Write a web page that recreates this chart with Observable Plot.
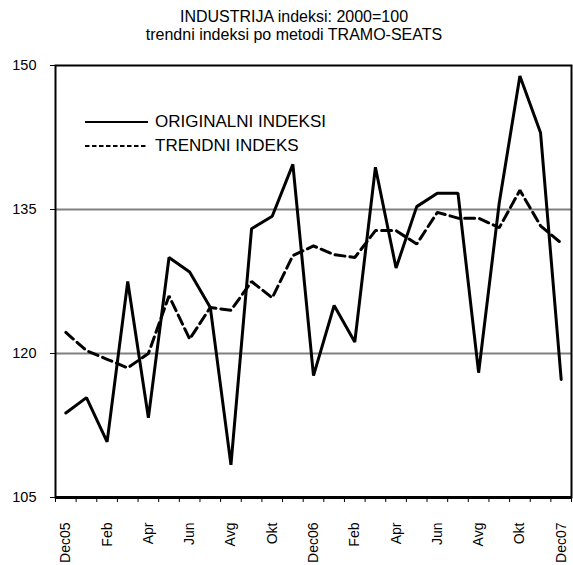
<!DOCTYPE html>
<html>
<head>
<meta charset="utf-8">
<script src="https://cdn.jsdelivr.net/npm/d3@7"></script>
<script src="https://cdn.jsdelivr.net/npm/@observablehq/plot@0.6"></script>
<style>
  html, body { margin: 0; padding: 0; background: #fff; }
  body { font-family: "Liberation Sans", Arial, sans-serif; }
  #wrap { position: relative; width: 573px; height: 565px; overflow: hidden; }
  #title { box-sizing: border-box; height: 48px; padding-top: 8px; padding-left: 15px;
           font-size: 16px; line-height: 17.5px; text-align: center; color: #000; }
  #legend { position: absolute; left: 85px; top: 110px; font-size: 17px; color: #000; }
  #legend .row { display: flex; align-items: center; height: 24px; }
  #legend svg { margin-right: 7px; }
</style>
</head>
<body>
<div id="wrap">
  <div id="title">INDUSTRIJA indeksi: 2000=100<br>trendni indeksi po metodi TRAMO-SEATS</div>
  <div id="chart"></div>
  <div id="legend"></div>
</div>
<script>
// Months Dec 2005 .. Dec 2007
const months = ["Dec05","Jan06","Feb06","Mar06","Apr06","May06","Jun06","Jul06","Avg06","Sep06","Okt06","Nov06",
                "Dec06","Jan07","Feb07","Mar07","Apr07","May07","Jun07","Jul07","Avg07","Sep07","Okt07","Nov07","Dec07"];
const tickLabels = ["Dec05","Feb","Apr","Jun","Avg","Okt","Dec06","Feb","Apr","Jun","Avg","Okt","Dec07"];
const original = [113.8,115.4,110.8,127.5,113.3,130.0,128.5,124.8,108.4,133.0,134.3,139.7,
                  117.7,125.0,121.2,139.4,128.9,135.3,136.7,136.7,118.0,135.7,148.9,143.0,117.3];
const trend    = [122.2,120.3,119.4,118.5,120.0,126.0,121.5,124.8,124.5,127.5,125.8,130.2,
                  131.2,130.3,130.0,132.8,132.8,131.4,134.7,134.1,134.1,133.1,137.0,133.3,131.5];
const yTicks = [105,120,135,150];
const gridValues = [120,135];
const seriesNames = ["ORIGINALNI INDEKSI","TRENDNI INDEKS"];

const dataOrig = months.map((m,i) => ({i, value: original[i]}));
const dataTrend = months.map((m,i) => ({i, value: trend[i]}));
const boundaries = d3.range(months.length + 1).map(i => i - 0.5);
const labelIdx = tickLabels.map((_, k) => k * 2);

const chart = Plot.plot({
  width: 573,
  height: 517,
  marginTop: 17,
  marginLeft: 55,
  marginRight: 2,
  marginBottom: 68,
  style: {fontFamily: '"Liberation Sans", Arial, sans-serif', fontSize: "14px", color: "#000", background: "#fff"},
  x: {type: "linear", domain: [-0.5, months.length - 0.5]},
  y: {domain: [105, 150]},
  marks: [
    Plot.ruleY(gridValues, {stroke: "#808080", strokeWidth: 2}),
    Plot.line(dataTrend, {x: "i", y: "value", stroke: "#000", strokeWidth: 3, strokeDasharray: "10,5", strokeLinejoin: "miter", curve: "linear"}),
    Plot.line(dataOrig, {x: "i", y: "value", stroke: "#000", strokeWidth: 3, strokeLinejoin: "miter", curve: "linear"}),
    Plot.frame({stroke: "#000", strokeWidth: 2}),
    Plot.ruleY([105], {stroke: "#000", strokeWidth: 3}),
    Plot.axisY({ticks: yTicks, tickSize: 5, tickPadding: 14, fontSize: 14.5, label: null, tickFormat: d => String(d)}),
    Plot.axisX({ticks: boundaries, tickSize: 5, tickFormat: () => "", label: null}),
    Plot.axisX({ticks: labelIdx, tickSize: 0, tickPadding: 25, tickRotate: -90, fontSize: 14, label: null,
                tickFormat: i => tickLabels[i / 2]})
  ]
});
document.getElementById("chart").appendChild(chart);

const legend = document.getElementById("legend");
seriesNames.forEach((name, k) => {
  const row = document.createElement("div");
  row.className = "row";
  row.innerHTML = `<svg width="63" height="6"><line x1="0" x2="63" y1="3" y2="3" stroke="#000" stroke-width="2" ${k === 1 ? 'stroke-dasharray="4.5,2.5"' : ''}/></svg><span>${name}</span>`;
  legend.appendChild(row);
});
</script>
</body>
</html>
